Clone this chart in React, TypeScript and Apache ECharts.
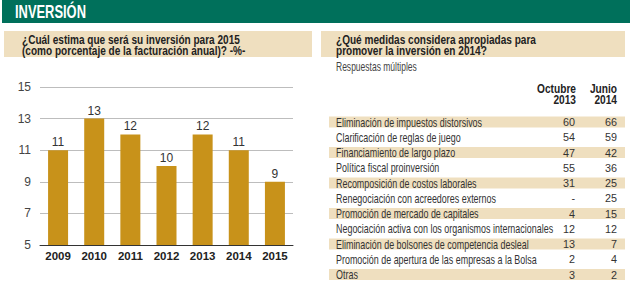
import { useEffect, useRef } from "react";
import * as echarts from "echarts";

// Left panel: estimated investment as % of annual turnover
const years = ["2009", "2010", "2011", "2012", "2013", "2014", "2015"];
const investmentShare = [11, 13, 12, 10, 12, 11, 9];
const yTicks = [5, 7, 9, 11, 13, 15];

// Right panel: measures considered appropriate (multiple answers)
const measures = [
  "Eliminación de impuestos distorsivos",
  "Clarificación de reglas de juego",
  "Financiamiento de largo plazo",
  "Política fiscal proinversión",
  "Recomposición de costos laborales",
  "Renegociación con acreedores externos",
  "Promoción de mercado de capitales",
  "Negociación activa con los organismos internacionales",
  "Eliminación de bolsones de competencia desleal",
  "Promoción de apertura de las empresas a la Bolsa",
  "Otras",
];
const october2013: (number | null)[] = [60, 54, 47, 55, 31, null, 4, 12, 13, 2, 3];
const june2014: (number | null)[] = [66, 59, 42, 36, 25, 25, 15, 12, 7, 4, 2];
const columnHeads = [
  ["Octubre", "2013"],
  ["Junio", "2014"],
];

const SANS = '"Liberation Sans", Arial, sans-serif';
const GREEN = "#00705b";
const BEIGE = "#efdfbf";
const GOLD = "#c8921a";

// horizontal squeeze that makes a regular face read as a condensed one
let measureCtx: CanvasRenderingContext2D | null = null;
function squeeze(sample: string, font: string, width: number) {
  if (!measureCtx) measureCtx = document.createElement("canvas").getContext("2d");
  if (!measureCtx) return 1;
  measureCtx.font = font;
  const w = measureCtx.measureText(sample).width;
  return w > 0 ? Math.min(1, width / w) : 1;
}

function label(text: string, x: number, y: number, font: string, fill: string, scaleX = 1, align = "left") {
  return {
    type: "text",
    x,
    y,
    scaleX,
    style: { text, x: 0, y: 0, font, fill, align, verticalAlign: "middle" },
  };
}

function buildGraphics() {
  const g: any[] = [];
  const titleFont = `bold 18.5px ${SANS}`;
  const qFont = `bold 13px ${SANS}`;
  const subFont = `12px ${SANS}`;
  const headFont = `bold 12.5px ${SANS}`;
  const rowFont = `12px ${SANS}`;
  const numFont = `11.5px ${SANS}`;

  const sTitle = squeeze("INVERSIÓN", titleFont, 71);
  const sQ = squeeze("¿Cuál estima que será su inversión para 2015", qFont, 218);
  const sSub = squeeze("Respuestas múltiples", subFont, 81);
  const sHead = squeeze("Octubre", headFont, 39);
  const sRow = squeeze("Eliminación de impuestos distorsivos", rowFont, 146);
  const sNum = squeeze("60", numFont, 12);

  // green header strip
  g.push({ type: "rect", shape: { x: 2, y: 0, width: 628, height: 23 }, style: { fill: GREEN } });
  g.push(label("INVERSIÓN", 15, 12, titleFont, "#fff", sTitle));

  // question bands
  g.push({ type: "rect", shape: { x: 4, y: 31, width: 308, height: 26 }, style: { fill: BEIGE } });
  g.push({ type: "rect", shape: { x: 321, y: 31, width: 304, height: 26 }, style: { fill: BEIGE } });
  g.push(label("¿Cuál estima que será su inversión para 2015", 22, 39, qFont, "#222", sQ));
  g.push(label("(como porcentaje de la facturación anual)? -%-", 22, 50, qFont, "#222", sQ));
  g.push(label("¿Qué medidas considera apropiadas para", 336, 39, qFont, "#222", sQ));
  g.push(label("promover la inversión en 2014?", 336, 50, qFont, "#222", sQ));
  g.push(label("Respuestas múltiples", 336, 67, subFont, "#444", sSub));

  // table column headers
  const colRight = [576, 617];
  columnHeads.forEach((lines, c) => {
    lines.forEach((t, l) => {
      g.push(label(t, colRight[c], 89 + l * 11, headFont, "#222", sHead, "right"));
    });
  });

  // table rows
  const rowTop = 122;
  const rowStep = 15.25;
  measures.forEach((name, i) => {
    const cy = rowTop + i * rowStep;
    if (i % 2 === 0) {
      g.push({ type: "rect", shape: { x: 329, y: cy - 5.5, width: 296, height: 11 }, style: { fill: BEIGE } });
    }
    g.push(label(name, 336, cy, rowFont, "#333", sRow));
    const a = october2013[i];
    const b = june2014[i];
    g.push(label(a == null ? "-" : String(a), colRight[0] - 1, cy, numFont, "#333", sNum, "right"));
    g.push(label(b == null ? "-" : String(b), colRight[1], cy, numFont, "#333", sNum, "right"));
  });
  return g;
}

export default function App() {
  const ref = useRef<HTMLDivElement>(null);
  useEffect(() => {
    if (!ref.current) return;
    const chart = echarts.init(ref.current, undefined, { renderer: "svg" });
    chart.setOption({
      animation: false,
      backgroundColor: "#fff",
      grid: { left: 40, right: 337, top: 87, bottom: 37 },
      xAxis: {
        type: "category",
        data: years,
        axisLine: { lineStyle: { color: "#333", width: 1 } },
        axisTick: { show: false },
        axisLabel: { interval: 0, fontFamily: SANS, fontWeight: "bold", fontSize: 11.5, color: "#222", margin: 5 },
      },
      yAxis: {
        type: "value",
        min: yTicks[0],
        max: yTicks[yTicks.length - 1],
        interval: yTicks[1] - yTicks[0],
        axisLine: { show: false },
        axisTick: { show: false },
        splitLine: { lineStyle: { color: "#bdbdbd", width: 1 } },
        axisLabel: { fontFamily: SANS, fontSize: 12, color: "#444", margin: 9 },
      },
      series: [
        {
          type: "bar",
          data: investmentShare,
          barWidth: 20,
          itemStyle: { color: GOLD },
          label: { show: true, position: "top", distance: 2, fontFamily: SANS, fontSize: 12, color: "#333" },
        },
      ],
      graphic: buildGraphics(),
    });
    return () => chart.dispose();
  }, []);
  return <div ref={ref} style={{ position: "fixed", left: 0, top: 0, width: 630, height: 282 }} />;
}
